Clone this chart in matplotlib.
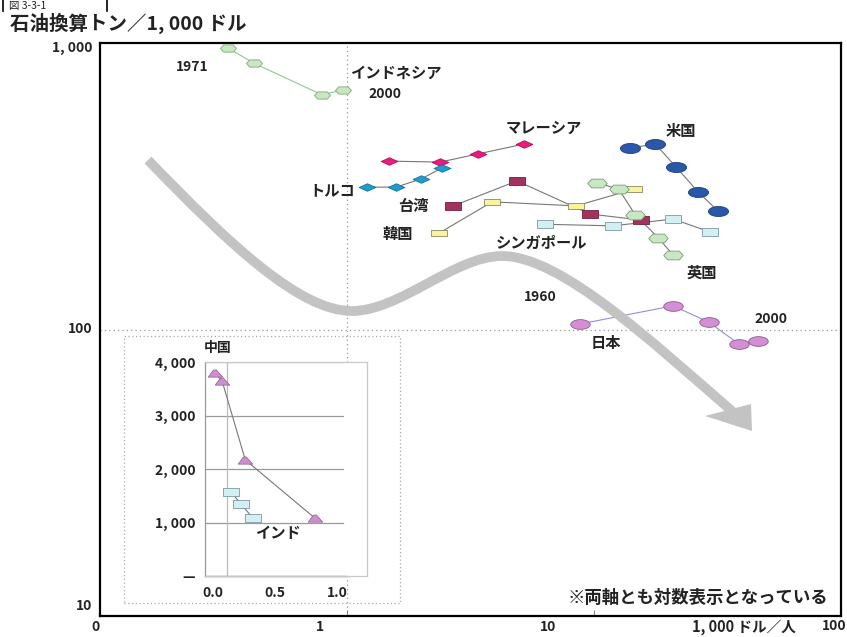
import numpy as np
import matplotlib
matplotlib.use("Agg")
import matplotlib.pyplot as plt
from matplotlib.path import Path
from matplotlib.markers import MarkerStyle
from matplotlib.patches import PathPatch, Polygon, Rectangle

plt.rcParams['font.family'] = ['Noto Sans CJK JP', 'DejaVu Sans']

# ---- data: GDP per capita (1,000 $/person) vs energy intensity (toe / 1,000 $)
idn_x = [0.33, 0.42, 0.79, 0.96]
idn_y = [960, 850, 660, 685]
mys_x = [1.48, 2.38, 3.39, 5.21]
mys_y = [387, 384, 410, 444]
tur_x = [1.20, 1.58, 1.99, 2.42]
tur_y = [314, 314, 335, 366]
twn_x = [2.69, 4.88, 9.63, 15.5]
twn_y = [270, 330, 253, 241]
kor_x = [2.36, 3.87, 8.46, 14.5]
kor_y = [217, 279, 270, 309]
gbr_x = [10.3, 12.6, 14.7, 18.2, 20.9]
gbr_y = [325, 309, 251, 209, 182]
sgp_x = [6.33, 11.9, 20.9, 29.5]
sgp_y = [233, 230, 243, 219]
usa_x = [14.0, 17.7, 21.5, 26.4, 31.8]
usa_y = [430, 444, 369, 302, 259]
jpn_x = [8.78, 20.9, 29.2, 38.6, 46.1]
jpn_y = [104.5, 121, 106, 89.0, 91.2]

# inset (linear axes)
chn_x = [0.016, 0.073, 0.26, 0.82]
chn_y = [3790, 3645, 2170, 1085]
ind_x = [0.145, 0.226, 0.32]
ind_y = [1570, 1345, 1085]

x_tick_labels = ["0", "1", "10", "100"]
y_tick_labels = ["1, 000", "100", "10"]
inset_y_ticks = [0, 1000, 2000, 3000, 4000]
inset_y_labels = ["—", "1, 000", "2, 000", "3, 000", "4, 000"]
inset_x_ticks = [0.0, 0.5, 1.0]
inset_x_labels = ["0.0", "0.5", "1.0"]


def shape(verts, sx=1.0, sy=1.0):
    v = np.asarray(verts, float) * [sx, sy]
    return Path(np.vstack([v, v[:1]]), closed=True)


circ = Path.unit_circle()
ELLIPSE = Path(circ.vertices * [1.0, 0.5], circ.codes)
DIAMOND = shape([(-1, 0), (0, 0.45), (1, 0), (0, -0.45)])
RECT = shape([(-1, -0.45), (1, -0.45), (1, 0.45), (-1, 0.45)])
HEXA = shape([(-1, 0), (-0.6, 0.45), (0.6, 0.45), (1, 0), (0.6, -0.45), (-0.6, -0.45)])
TENT = shape([(-1, -0.5), (-0.3, 0.45), (0.1, 0.5), (1, -0.5)])

fig = plt.figure(figsize=(8.47, 6.37), dpi=100)
ax = fig.add_axes([100 / 847, 21 / 637, 741 / 847, 573 / 637])
ax.set_xscale('log')
ax.set_yscale('log')
ax.set_xlim(0.1, 100)
ax.set_ylim(10, 1000)
for s in ax.spines.values():
    s.set_linewidth(1.6)
    s.set_color('black')
ax.set_xticks([1, 10])
ax.set_xticklabels([])
ax.xaxis.set_minor_locator(matplotlib.ticker.NullLocator())
ax.yaxis.set_minor_locator(matplotlib.ticker.NullLocator())
ax.set_yticks([])
ax.tick_params(axis='x', direction='in', length=4, width=0.8, color='#888888')

# reference lines at x=1, y=100
ax.axvline(1, color='#999999', lw=0.9, ls=(0, (1, 2.5)), zorder=1)
ax.axhline(100, color='#999999', lw=0.9, ls=(0, (1, 2.5)), zorder=1)

# big gray trend arrow (axes fraction coordinates)
def af(px, py):
    return ((px - 100) / 741, (616 - py) / 573)

arrow_pts = [(148, 160), (230, 245), (300, 311), (352, 311),
             (400, 311), (455, 256), (502, 256),
             (560, 256), (650, 340), (733, 412)]
arrow_codes = [Path.MOVETO] + [Path.CURVE4] * 9
arrow_path = Path([af(*p) for p in arrow_pts], arrow_codes)
ax.add_patch(PathPatch(arrow_path, transform=ax.transAxes, fc='none',
                       ec='#c3c3c3', lw=7, capstyle='butt', zorder=2.5))
ax.add_patch(Polygon([af(705, 416), af(751, 404), af(752, 431)], closed=True,
                     transform=ax.transAxes, fc='#c3c3c3', ec='none', zorder=2.5))

# country series
series = [
    (idn_x, idn_y, HEXA, 11.5, '#c9e8c1', '#7fa87a', '#8ccc8c'),
    (mys_x, mys_y, DIAMOND, 12, '#ec1a7d', '#b0105a', '#777777'),
    (tur_x, tur_y, DIAMOND, 12, '#1f9ccc', '#15739a', '#777777'),
    (twn_x, twn_y, RECT, 11.5, '#a3325f', '#6e2040', '#777777'),
    (kor_x, kor_y, RECT, 11, '#f9f39b', '#888866', '#777777'),
    (sgp_x, sgp_y, RECT, 12, '#d2eff3', '#7a9aa0', '#777777'),
    (gbr_x, gbr_y, HEXA, 14, '#c8e8c1', '#7c9c78', '#777777'),
    (usa_x, usa_y, ELLIPSE, 14.5, '#2a58a8', '#1c3f80', '#777777'),
    (jpn_x, jpn_y, ELLIPSE, 14, '#d48fd4', '#8e5a8e', '#9090dd'),
]
for xs, ys, mk, ms, fc, ec, lc in series:
    ax.plot(xs, ys, color=lc, lw=0.8, zorder=2)
    ax.plot(xs, ys, ls='none', marker=MarkerStyle(mk), ms=ms, mfc=fc, mec=ec,
            mew=0.6, zorder=3)

# labels
lab = dict(transform=ax.transAxes, fontsize=11, fontweight='bold',
           ha='center', va='center', color='#222222', zorder=4)
for txt, px, py in [("1971", 192, 67), ("インドネシア", 396, 73), ("2000", 385, 94),
                    ("マレーシア", 544, 128), ("米国", 681, 131), ("トルコ", 332, 190),
                    ("台湾", 413, 206), ("韓国", 398, 234), ("シンガポール", 541, 243),
                    ("英国", 702, 273), ("1960", 540, 297), ("日本", 606, 343),
                    ("2000", 771, 319)]:
    fs = 10 if txt.isdigit() else 11
    ax.text(*af(px, py), txt, **{**lab, 'fontsize': fs})

ax.text(*af(828, 598), "※両軸とも対数表示となっている", transform=ax.transAxes,
        fontsize=12.5, fontweight='bold', ha='right', va='center', color='#222222')

# axis labels drawn as text
tick = dict(transform=ax.transAxes, fontsize=10, fontweight='bold', color='#222222',
            va='center', clip_on=False)
for txt, px in zip(x_tick_labels[:3], [95, 320, 548]):
    ax.text(*af(px, 627), txt, ha='center', **tick)
ax.text(*af(846, 626), x_tick_labels[3], ha='right', **tick)
ax.text(*af(744, 627), "1, 000 ドル／人", ha='center', **{**tick, 'fontsize': 10.5})
for txt, py in zip(y_tick_labels, [48, 329, 606]):
    ax.text(*af(92, py), txt, ha='right', **tick)

fig.text(10 / 847, 1 - 23 / 637, "石油換算トン／1, 000 ドル", fontsize=14,
         fontweight='bold', ha='left', va='center', color='#222222')
fig.text(9 / 847, 1 - 0.5 / 637, "図 3-3-1", fontsize=7.5, ha='left', va='top',
         color='#222222')
fig.add_artist(plt.Line2D([3 / 847, 3 / 847], [1, 1 - 11 / 637], color='black', lw=1.2))
fig.add_artist(plt.Line2D([107 / 847, 107 / 847], [1, 1 - 11 / 637], color='black', lw=1.2))

# dotted frame around the inset
ax.add_patch(Rectangle(af(124, 603), 276 / 741, 267 / 573, transform=ax.transAxes,
                       fill=False, ec='#aaaaaa', lw=0.9, ls=(0, (1, 2)), zorder=1))

# inset: China / India on linear axes
ins = fig.add_axes([205 / 847, 61 / 637, 162 / 847, 214 / 637])
ins.set_xlim(-0.065, 1.242)
ins.set_ylim(0, 4000)
for s in ins.spines.values():
    s.set_color('#c8c8c8')
    s.set_linewidth(0.9)
ins.spines['left'].set_color('#999999')
for yv in inset_y_ticks[1:]:
    ins.plot([-0.065, 1.05], [yv, yv], color='#999999', lw=0.9, zorder=1)
ins.plot([-0.065, 1.07], [0, 0], color='#777777', lw=1.0, zorder=1, clip_on=False)
ins.axvline(0.11, color='#bbbbbb', lw=0.9, zorder=1)
ins.set_yticks(inset_y_ticks)
ins.set_yticklabels(inset_y_labels)
ins.set_xticks(inset_x_ticks)
ins.set_xticklabels(inset_x_labels)
ins.tick_params(length=0, labelsize=10, pad=7, labelcolor='#222222')
for t in ins.get_xticklabels() + ins.get_yticklabels():
    t.set_fontweight('bold')

ins.plot(chn_x, chn_y, color='#777777', lw=0.8, zorder=2)
ins.plot(chn_x, chn_y, ls='none', marker=MarkerStyle(TENT), ms=10.5, mfc='#d08ed0',
         mec='#8e5a8e', mew=0.5, zorder=3, clip_on=False)
ins.plot(ind_x, ind_y, color='#777777', lw=0.8, zorder=2)
ins.plot(ind_x, ind_y, ls='none', marker=MarkerStyle(RECT), ms=11.5, mfc='#d2eff3',
         mec='#7a9aa0', mew=0.6, zorder=3)
ins.text(0.04, 4265, "中国", fontsize=10, fontweight='bold', ha='center', va='center',
         color='#222222', clip_on=False)
ins.text(0.52, 800, "インド", fontsize=11, fontweight='bold', ha='center', va='center',
         color='#222222')

fig.savefig("out.png", dpi=100)
